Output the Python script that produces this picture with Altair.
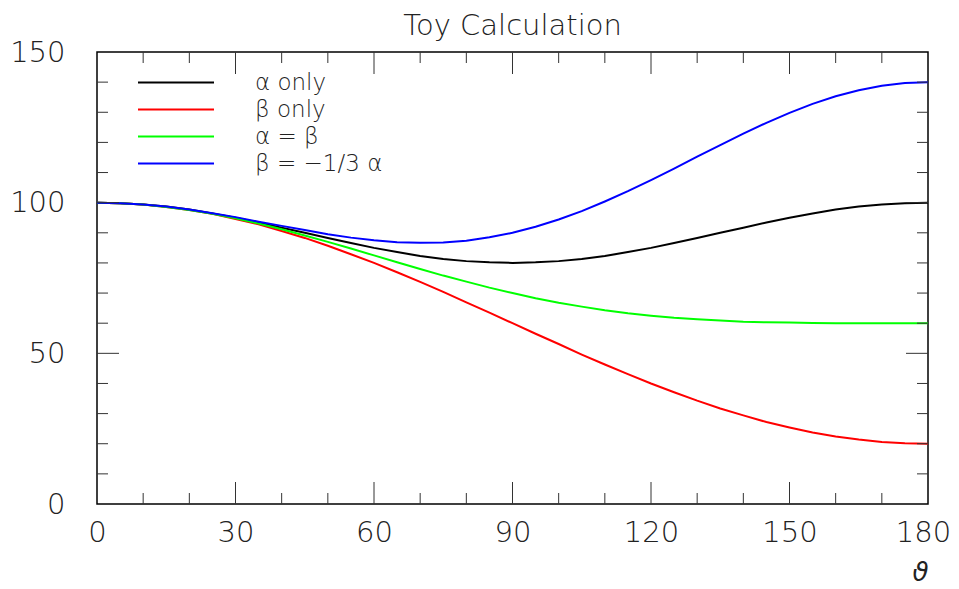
import altair as alt
import pandas as pd

# ---- data ----
title_text = "Toy Calculation"

theta = [0, 5, 10, 15, 20, 25, 30, 35, 40, 45, 50, 55, 60, 65, 70, 75, 80, 85, 90,
         95, 100, 105, 110, 115, 120, 125, 130, 135, 140, 145, 150, 155, 160, 165, 170, 175, 180]

alpha_only = [100.0, 99.8, 99.4, 98.7, 97.7, 96.4, 95.0, 93.4, 91.7, 90.0, 88.3, 86.6, 85.0,
              83.6, 82.3, 81.3, 80.6, 80.2, 80.0, 80.2, 80.6, 81.3, 82.3, 83.6, 85.0, 86.6,
              88.3, 90.0, 91.7, 93.4, 95.0, 96.4, 97.7, 98.7, 99.4, 99.8, 100.0]
beta_only = [100.0, 99.8, 99.4, 98.6, 97.6, 96.3, 94.6, 92.8, 90.6, 88.3, 85.7, 82.9, 80.0,
             76.9, 73.7, 70.4, 66.9, 63.5, 60.0, 56.5, 53.1, 49.6, 46.3, 43.1, 40.0, 37.1,
             34.3, 31.7, 29.4, 27.2, 25.4, 23.7, 22.4, 21.4, 20.6, 20.2, 20.0]
alpha_eq_beta = [100.0, 99.8, 99.4, 98.6, 97.6, 96.3, 94.8, 93.1, 91.2, 89.1, 87.0, 84.8, 82.5,
                 80.2, 78.0, 75.8, 73.8, 71.8, 70.0, 68.3, 66.8, 65.5, 64.3, 63.3, 62.5, 61.8,
                 61.3, 60.9, 60.5, 60.3, 60.2, 60.1, 60.0, 60.0, 60.0, 60.0, 60.0]
beta_m13_alpha = [100.0, 99.8, 99.4, 98.7, 97.7, 96.5, 95.2, 93.7, 92.3, 90.9, 89.5, 88.4, 87.5,
                  86.9, 86.7, 86.8, 87.4, 88.5, 90.0, 92.0, 94.4, 97.2, 100.4, 103.8, 107.5, 111.3,
                  115.3, 119.1, 122.9, 126.5, 129.8, 132.8, 135.3, 137.3, 138.8, 139.7, 140.0]

series_names = ["α only", "β only", "α = β", "β = −1/3 α"]
series_colors = ["#000000", "#ff0000", "#00ff00", "#0000ff"]

x_labels = [0, 30, 60, 90, 120, 150, 180]
y_labels = [0, 50, 100, 150]
x_major = [30, 60, 90, 120, 150]
x_minor = [10, 20, 40, 50, 70, 80, 100, 110, 130, 140, 160, 170]
y_major = [50, 100]
y_minor = [10, 20, 30, 40, 60, 70, 80, 90, 110, 120, 130, 140]

W, H = 831, 452
FONT = "DejaVu Sans"
TXT = "#222222"
MAJ, MIN = 22, 11

# ---- tables ----
rows = []
for name, vals in zip(series_names, [alpha_only, beta_only, alpha_eq_beta, beta_m13_alpha]):
    for t, v in zip(theta, vals):
        rows.append({"theta": t, "value": v, "series": name})
df = pd.DataFrame(rows)

xs = alt.Scale(domain=[0, 180], nice=False, zero=False)
ys = alt.Scale(domain=[0, 150], nice=False, zero=False)

x_axis = alt.Axis(values=x_labels, ticks=False, tickSize=0, domain=False, grid=False,
                  labelPadding=14, labelFontSize=29, labelFont=FONT, labelFontWeight=200,
                  labelColor=TXT, labelFlush=False,
                  labelOffset=alt.condition("datum.value == 180", alt.value(-5), alt.value(0)),
                  title="ϑ", titleFont=FONT, titleFontSize=26,
                  titleFontStyle="italic", titleFontWeight="normal", titleColor=TXT,
                  titleX=823, titleY=76, titleAlign="center", titleBaseline="alphabetic")
y_axis = alt.Axis(values=y_labels, ticks=False, tickSize=0, domain=False, grid=False,
                  labelPadding=32, labelFontSize=29, labelFont=FONT, labelFontWeight=200,
                  labelColor=TXT, labelFlush=False, title="")

lines = alt.Chart(df).mark_line(strokeWidth=2).encode(
    x=alt.X("theta:Q", scale=xs, axis=x_axis, title="ϑ"),
    y=alt.Y("value:Q", scale=ys, axis=y_axis, title=""),
    color=alt.Color(
        "series:N", sort=series_names,
        scale=alt.Scale(domain=series_names, range=series_colors),
        legend=alt.Legend(
            title=None, orient="none", legendX=40, legendY=17, padding=0,
            symbolType="stroke", symbolSize=5776, symbolStrokeWidth=2, clipHeight=27,
            rowPadding=0, labelOffset=40, labelFont=FONT, labelFontSize=23,
            labelFontWeight=200, labelColor=TXT, labelLimit=400,
        ),
    ),
)


def xtick(vals, length, top):
    d = pd.DataFrame({"v": vals})
    if top:
        yy, yy2 = alt.value(0), alt.value(length)
    else:
        yy, yy2 = alt.value(H), alt.value(H - length)
    return alt.Chart(d).mark_rule(color="#333333", strokeWidth=1).encode(
        x=alt.X("v:Q", scale=xs, axis=x_axis, title="ϑ"), y=yy, y2=yy2)


def ytick(vals, length, right):
    d = pd.DataFrame({"v": vals})
    if right:
        xx, xx2 = alt.value(W), alt.value(W - length)
    else:
        xx, xx2 = alt.value(0), alt.value(length)
    return alt.Chart(d).mark_rule(color="#333333", strokeWidth=1).encode(
        y=alt.Y("v:Q", scale=ys, axis=y_axis, title=""), x=xx, x2=xx2)


ticks = [xtick(x_major, MAJ, False), xtick(x_minor, MIN, False),
         xtick(x_major, MAJ, True), xtick(x_minor, MIN, True),
         ytick(y_major, MAJ, False), ytick(y_minor, MIN, False),
         ytick(y_major, MAJ, True), ytick(y_minor, MIN, True)]

title_mark = alt.Chart(pd.DataFrame({"t": [title_text]})).mark_text(
    fontSize=29, font=FONT, fontWeight=200, color=TXT, align="center", baseline="alphabetic"
).encode(x=alt.value(W / 2), y=alt.value(-17), text="t:N")

chart = alt.layer(lines, *ticks, title_mark).properties(
    width=W, height=H,
    autosize=alt.AutoSizeParams(type="none"),
    padding={"left": 89, "top": 44, "right": 23, "bottom": 84},
).configure_view(stroke="#000000", strokeWidth=1.5)

chart.save("out.html", embed_options={"renderer": "svg", "actions": False})
